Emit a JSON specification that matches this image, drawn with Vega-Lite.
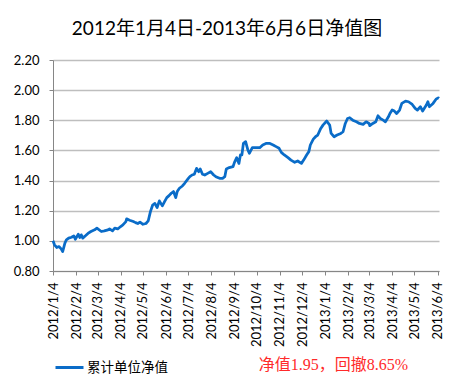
{
  "$schema": "https://vega.github.io/schema/vega-lite/v6.json",
  "width": 386,
  "height": 211,
  "autosize": "none",
  "padding": {"left": 53, "top": 60, "right": 16, "bottom": 120},
  "background": "white",
  "title": {
    "text": "2012年1月4日-2013年6月6日净值图",
    "font": "Lato, Noto Sans CJK SC",
    "fontSize": 19,
    "fontWeight": "normal",
    "color": "#000000",
    "anchor": "middle",
    "dx": -19,
    "offset": 15
  },
  "data": {
    "values": [
      {"date": "2012-01-04", "nav": 1.000},
      {"date": "2012-01-06", "nav": 0.974},
      {"date": "2012-01-09", "nav": 0.956},
      {"date": "2012-01-12", "nav": 0.962},
      {"date": "2012-01-15", "nav": 0.947},
      {"date": "2012-01-17", "nav": 0.929},
      {"date": "2012-01-20", "nav": 0.985},
      {"date": "2012-01-22", "nav": 1.007},
      {"date": "2012-01-25", "nav": 1.018},
      {"date": "2012-01-29", "nav": 1.024},
      {"date": "2012-02-01", "nav": 1.033},
      {"date": "2012-02-03", "nav": 1.011},
      {"date": "2012-02-07", "nav": 1.044},
      {"date": "2012-02-09", "nav": 1.022},
      {"date": "2012-02-11", "nav": 1.040},
      {"date": "2012-02-13", "nav": 1.018},
      {"date": "2012-02-17", "nav": 1.035},
      {"date": "2012-02-20", "nav": 1.049},
      {"date": "2012-02-24", "nav": 1.062},
      {"date": "2012-02-29", "nav": 1.073},
      {"date": "2012-03-03", "nav": 1.084},
      {"date": "2012-03-09", "nav": 1.062},
      {"date": "2012-03-13", "nav": 1.066},
      {"date": "2012-03-18", "nav": 1.073},
      {"date": "2012-03-20", "nav": 1.079},
      {"date": "2012-03-24", "nav": 1.066},
      {"date": "2012-03-27", "nav": 1.084},
      {"date": "2012-03-31", "nav": 1.079},
      {"date": "2012-04-04", "nav": 1.095},
      {"date": "2012-04-07", "nav": 1.106},
      {"date": "2012-04-11", "nav": 1.128},
      {"date": "2012-04-12", "nav": 1.146},
      {"date": "2012-04-16", "nav": 1.137},
      {"date": "2012-04-21", "nav": 1.128},
      {"date": "2012-04-24", "nav": 1.121},
      {"date": "2012-04-27", "nav": 1.115},
      {"date": "2012-04-30", "nav": 1.124},
      {"date": "2012-05-04", "nav": 1.110},
      {"date": "2012-05-08", "nav": 1.115},
      {"date": "2012-05-11", "nav": 1.132},
      {"date": "2012-05-14", "nav": 1.194},
      {"date": "2012-05-17", "nav": 1.238},
      {"date": "2012-05-20", "nav": 1.249},
      {"date": "2012-05-23", "nav": 1.221},
      {"date": "2012-05-26", "nav": 1.265},
      {"date": "2012-05-30", "nav": 1.232},
      {"date": "2012-06-02", "nav": 1.260},
      {"date": "2012-06-05", "nav": 1.287},
      {"date": "2012-06-08", "nav": 1.300},
      {"date": "2012-06-11", "nav": 1.316},
      {"date": "2012-06-14", "nav": 1.327},
      {"date": "2012-06-17", "nav": 1.287},
      {"date": "2012-06-19", "nav": 1.327},
      {"date": "2012-06-22", "nav": 1.349},
      {"date": "2012-06-26", "nav": 1.364},
      {"date": "2012-06-29", "nav": 1.382},
      {"date": "2012-07-04", "nav": 1.415},
      {"date": "2012-07-06", "nav": 1.426},
      {"date": "2012-07-09", "nav": 1.437},
      {"date": "2012-07-12", "nav": 1.442},
      {"date": "2012-07-15", "nav": 1.481},
      {"date": "2012-07-18", "nav": 1.459},
      {"date": "2012-07-20", "nav": 1.477},
      {"date": "2012-07-23", "nav": 1.442},
      {"date": "2012-07-26", "nav": 1.437},
      {"date": "2012-07-30", "nav": 1.448},
      {"date": "2012-08-03", "nav": 1.459},
      {"date": "2012-08-07", "nav": 1.437},
      {"date": "2012-08-10", "nav": 1.426},
      {"date": "2012-08-15", "nav": 1.415},
      {"date": "2012-08-19", "nav": 1.415},
      {"date": "2012-08-22", "nav": 1.426},
      {"date": "2012-08-24", "nav": 1.477},
      {"date": "2012-08-28", "nav": 1.486},
      {"date": "2012-09-02", "nav": 1.492},
      {"date": "2012-09-04", "nav": 1.521},
      {"date": "2012-09-07", "nav": 1.552},
      {"date": "2012-09-10", "nav": 1.514},
      {"date": "2012-09-12", "nav": 1.570},
      {"date": "2012-09-14", "nav": 1.570},
      {"date": "2012-09-16", "nav": 1.647},
      {"date": "2012-09-19", "nav": 1.658},
      {"date": "2012-09-22", "nav": 1.603},
      {"date": "2012-09-24", "nav": 1.581},
      {"date": "2012-09-28", "nav": 1.618},
      {"date": "2012-10-03", "nav": 1.618},
      {"date": "2012-10-08", "nav": 1.618},
      {"date": "2012-10-12", "nav": 1.636},
      {"date": "2012-10-17", "nav": 1.647},
      {"date": "2012-10-21", "nav": 1.647},
      {"date": "2012-10-26", "nav": 1.636},
      {"date": "2012-10-30", "nav": 1.625},
      {"date": "2012-11-03", "nav": 1.614},
      {"date": "2012-11-06", "nav": 1.587},
      {"date": "2012-11-10", "nav": 1.570},
      {"date": "2012-11-15", "nav": 1.552},
      {"date": "2012-11-19", "nav": 1.536},
      {"date": "2012-11-24", "nav": 1.521},
      {"date": "2012-11-28", "nav": 1.530},
      {"date": "2012-12-03", "nav": 1.514},
      {"date": "2012-12-06", "nav": 1.536},
      {"date": "2012-12-10", "nav": 1.570},
      {"date": "2012-12-13", "nav": 1.592},
      {"date": "2012-12-15", "nav": 1.636},
      {"date": "2012-12-19", "nav": 1.675},
      {"date": "2012-12-22", "nav": 1.691},
      {"date": "2012-12-25", "nav": 1.702},
      {"date": "2012-12-29", "nav": 1.746},
      {"date": "2013-01-01", "nav": 1.768},
      {"date": "2013-01-06", "nav": 1.795},
      {"date": "2013-01-10", "nav": 1.768},
      {"date": "2013-01-12", "nav": 1.713},
      {"date": "2013-01-16", "nav": 1.691},
      {"date": "2013-01-20", "nav": 1.702},
      {"date": "2013-01-25", "nav": 1.713},
      {"date": "2013-01-28", "nav": 1.724},
      {"date": "2013-01-31", "nav": 1.779},
      {"date": "2013-02-03", "nav": 1.812},
      {"date": "2013-02-06", "nav": 1.817},
      {"date": "2013-02-10", "nav": 1.801},
      {"date": "2013-02-15", "nav": 1.790},
      {"date": "2013-02-19", "nav": 1.779},
      {"date": "2013-02-24", "nav": 1.773},
      {"date": "2013-02-28", "nav": 1.790},
      {"date": "2013-03-04", "nav": 1.779},
      {"date": "2013-03-05", "nav": 1.764},
      {"date": "2013-03-09", "nav": 1.779},
      {"date": "2013-03-13", "nav": 1.790},
      {"date": "2013-03-16", "nav": 1.830},
      {"date": "2013-03-19", "nav": 1.812},
      {"date": "2013-03-23", "nav": 1.801},
      {"date": "2013-03-26", "nav": 1.790},
      {"date": "2013-03-30", "nav": 1.823},
      {"date": "2013-04-01", "nav": 1.845},
      {"date": "2013-04-04", "nav": 1.868},
      {"date": "2013-04-07", "nav": 1.861},
      {"date": "2013-04-10", "nav": 1.845},
      {"date": "2013-04-14", "nav": 1.868},
      {"date": "2013-04-17", "nav": 1.912},
      {"date": "2013-04-22", "nav": 1.927},
      {"date": "2013-04-26", "nav": 1.923},
      {"date": "2013-05-01", "nav": 1.905},
      {"date": "2013-05-05", "nav": 1.879},
      {"date": "2013-05-08", "nav": 1.868},
      {"date": "2013-05-12", "nav": 1.890},
      {"date": "2013-05-15", "nav": 1.861},
      {"date": "2013-05-20", "nav": 1.901},
      {"date": "2013-05-22", "nav": 1.923},
      {"date": "2013-05-24", "nav": 1.890},
      {"date": "2013-05-29", "nav": 1.912},
      {"date": "2013-06-02", "nav": 1.940},
      {"date": "2013-06-05", "nav": 1.949},
      {"date": "2013-06-06", "nav": 1.945}
    ]
  },
  "mark": {"type": "line", "strokeWidth": 2.75, "strokeJoin": "round", "interpolate": "linear"},
  "encoding": {
    "x": {
      "field": "date",
      "type": "temporal",
      "scale": {"domain": ["2012-01-04T00:00:00", "2013-06-06T00:00:00"], "nice": false},
      "axis": {
        "values": ["2012-01-04T00:00:00", "2012-02-04T00:00:00", "2012-03-04T00:00:00", "2012-04-04T00:00:00", "2012-05-04T00:00:00", "2012-06-04T00:00:00", "2012-07-04T00:00:00", "2012-08-04T00:00:00", "2012-09-04T00:00:00", "2012-10-04T00:00:00", "2012-11-04T00:00:00", "2012-12-04T00:00:00", "2013-01-04T00:00:00", "2013-02-04T00:00:00", "2013-03-04T00:00:00", "2013-04-04T00:00:00", "2013-05-04T00:00:00", "2013-06-04T00:00:00"],
        "labelExpr": "timeFormat(datum.value, '%Y/%-m/%-d')",
        "labelAngle": -90,
        "labelAlign": "right",
        "labelBaseline": "middle",
        "labelFont": "Lato",
        "labelFontSize": 13,
        "labelColor": "#000000",
        "labelPadding": 7,
        "labelOverlap": false,
        "labelFlush": false,
        "grid": false,
        "tickSize": 4,
        "tickColor": "#868686",
        "domainColor": "#868686",
        "domainWidth": 1,
        "title": "净值1.95，回撤8.65%",
        "titleColor": "#FF2A2A",
        "titleFont": "Liberation Serif, Noto Sans CJK SC",
        "titleFontSize": 16,
        "titleFontWeight": "normal",
        "titleX": 280,
        "titleY": 93,
        "titleAlign": "center",
        "titleBaseline": "middle"
      }
    },
    "y": {
      "field": "nav",
      "type": "quantitative",
      "scale": {"domain": [0.8, 2.2], "nice": false, "zero": false},
      "axis": {
        "values": [0.8, 1.0, 1.2, 1.4, 1.6, 1.8, 2.0, 2.2],
        "format": ".2f",
        "labelFont": "Lato",
        "labelFontSize": 13,
        "labelColor": "#000000",
        "labelPadding": 10,
        "tickSize": 4,
        "tickColor": "#868686",
        "domainColor": "#868686",
        "grid": true,
        "gridColor": "#BEBEBE",
        "gridWidth": 1.3,
        "title": null
      }
    },
    "color": {
      "datum": "累计单位净值",
      "type": "nominal",
      "scale": {"range": ["#0A6CC8"]},
      "legend": {
        "orient": "none",
        "legendX": 1,
        "legendY": 292,
        "title": null,
        "symbolType": "stroke",
        "symbolSize": 784,
        "symbolStrokeWidth": 3,
        "labelFont": "Noto Sans CJK SC",
        "labelFontSize": 13.5,
        "labelColor": "#000000",
        "labelOffset": 2,
        "padding": 0
      }
    }
  },
  "config": {
    "view": {"stroke": null}
  }
}
